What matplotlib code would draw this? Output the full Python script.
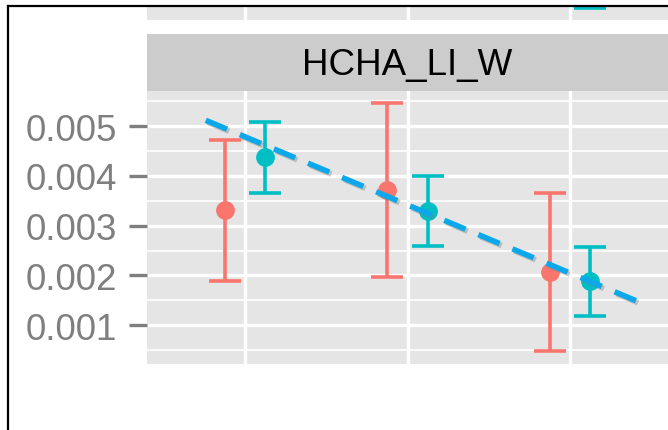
import matplotlib
matplotlib.use("Agg")
import matplotlib.pyplot as plt
import matplotlib.patheffects as pe
from matplotlib.lines import Line2D
import numpy as np

plt.rcParams['font.family'] = ['Liberation Sans', 'DejaVu Sans']

# data
panel_title = "HCHA_LI_W"
groups = [1, 2, 3]
red_mean = [0.00332, 0.00372, 0.00206]
red_low = [0.00189, 0.00196, 0.00047]
red_high = [0.00472, 0.00547, 0.00365]
teal_mean = [0.00438, 0.00329, 0.00189]
teal_low = [0.00365, 0.00259, 0.00119]
teal_high = [0.00509, 0.00399, 0.00257]
trend_x = [0.761, 3.411]
trend_y = [0.00512, 0.00148]
yticks = [0.001, 0.002, 0.003, 0.004, 0.005]
ytick_labels = ["0.001", "0.002", "0.003", "0.004", "0.005"]

# piece of the panel above (cut off by the crop)
upper_x = [3]
upper_low = [0.86]
upper_high = [2.0]

red = "#F8766D"
teal = "#00BFC4"
dodge = 0.123

fig = plt.figure(figsize=(6.68, 4.31), dpi=100)

W, H = 668.0, 431.0
def box(x0, y0, x1, y1):
    return [x0 / W, 1 - y1 / H, (x1 - x0) / W, (y1 - y0) / H]

ax = fig.add_axes(box(147, 92, 668, 365))
strip = fig.add_axes(box(147, 35, 668, 92))
upper = fig.add_axes(box(147, 7, 668, 21))

xlim = (0.4, 3.6)

# main panel
ax.set_facecolor("#E5E5E5")
ax.set_xlim(*xlim)
ax.set_ylim(0.000217, 0.00571)
ax.set_yticks(yticks)
ax.set_yticklabels(ytick_labels)
ax.set_yticks(np.arange(0.0005, 0.0056, 0.001), minor=True)
ax.set_xticks(groups)
ax.tick_params(axis="x", length=0, labelbottom=False)
ax.tick_params(axis="y", which="major", length=13, width=2.4, color="#7F7F7F",
               labelcolor="#7F7F7F", labelsize=26.5, pad=8.5)
ax.tick_params(axis="y", which="minor", length=0)
ax.grid(True, which="major", color="white", linewidth=2.4)
ax.grid(True, which="minor", axis="y", color="white", linewidth=1.2)
ax.set_axisbelow(True)
for s in ax.spines.values():
    s.set_visible(False)

xr = np.array(groups) - dodge
xt = np.array(groups) + dodge
ax.errorbar(xr, red_mean,
            yerr=[np.array(red_mean) - np.array(red_low), np.array(red_high) - np.array(red_mean)],
            fmt="o", color=red, ms=12.5, elinewidth=2.6, capsize=11.5, capthick=2.6, zorder=3)
ax.errorbar(xt, teal_mean,
            yerr=[np.array(teal_mean) - np.array(teal_low), np.array(teal_high) - np.array(teal_mean)],
            fmt="o", color=teal, ms=12.5, elinewidth=2.6, capsize=11.5, capthick=2.6, zorder=3)

ax.plot(trend_x, trend_y, color="#0DA8EA", linewidth=4.0, dashes=(4.15, 2.5),
        solid_capstyle="butt", dash_capstyle="butt", zorder=4,
        path_effects=[pe.SimpleLineShadow(offset=(1.5, -1.5), shadow_color="gray", alpha=0.4),
                      pe.Normal()])

# facet strip
strip.set_facecolor("#CCCCCC")
strip.set_xticks([])
strip.set_yticks([])
for s in strip.spines.values():
    s.set_visible(False)
strip.text(0.5, 0.47, panel_title, transform=strip.transAxes, ha="center", va="center",
           fontsize=26.5, color="black")

# remnant of the panel above
upper.set_facecolor("#E5E5E5")
upper.set_xlim(*xlim)
upper.set_ylim(0, 1)
upper.set_xticks(groups)
upper.set_yticks([])
upper.tick_params(axis="x", length=0, labelbottom=False)
upper.grid(True, axis="x", color="white", linewidth=2.4)
upper.set_axisbelow(True)
for s in upper.spines.values():
    s.set_visible(False)
ux = np.array(upper_x) + dodge
upper.errorbar(ux, upper_high, yerr=[np.array(upper_high) - np.array(upper_low), np.zeros(1)],
               fmt="none", ecolor=teal, elinewidth=2.6, capsize=11.5, capthick=2.6, clip_on=True)

# black frame of the cropped screenshot
fig.add_artist(Line2D([7.5 / W, 1.0], [1 - 6.5 / H, 1 - 6.5 / H], color="black", linewidth=1.6))
fig.add_artist(Line2D([7.5 / W, 7.5 / W], [0.0, 1 - 6.5 / H], color="black", linewidth=1.6))

fig.savefig("out.png", dpi=100)
